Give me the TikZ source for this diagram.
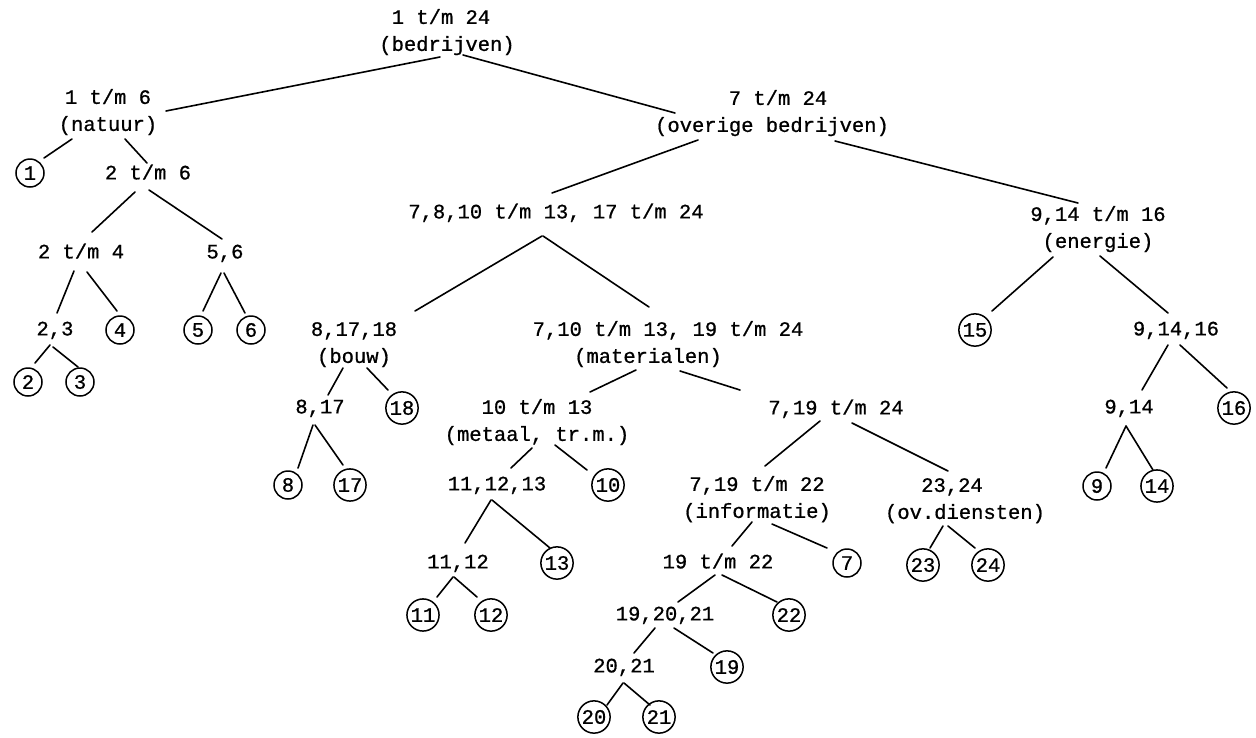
\documentclass[tikz,border=0pt]{standalone}
\usepackage{fontspec}
\newfontfamily\tw[FakeBold=0.8]{Liberation Mono}
\usetikzlibrary{calc}
\tikzset{
  lbl/.style={inner sep=0pt, align=center, font=\tw\fontsize{20.5}{27}\selectfont},
  leaf/.style={circle, draw, line width=1.5pt, inner sep=1.5pt, minimum size=28pt, font=\tw\fontsize{20.5}{27}\selectfont},
  conn/.style={line width=1.6pt, line cap=round}
}
\newcommand\tedge[4]{\draw[conn] ($(#1)+(#2)$) -- ($(#3)+(#4)$);}
\begin{document}
\begin{tikzpicture}[x=1pt,y=-1pt]
\useasboundingbox (0,0) rectangle (1256,737);
% internal nodes
\node[lbl] (root) at (447,32) {\strut 1 t/m 24\rule{12pt}{0pt}\\\strut(bedrijven)};
\node[lbl] (natuur) at (108,112) {\strut 1 t/m 6\\\strut(natuur)};
\node[lbl] (overige) at (772,113) {\strut\rule{12pt}{0pt}7 t/m 24\\\strut(overige bedrijven)};
\node[lbl] (n26) at (148,174) {\strut 2 t/m 6};
\node[lbl] (n24) at (81,253) {\strut 2 t/m 4};
\node[lbl] (n56) at (225,253) {\strut 5,6};
\node[lbl] (n23) at (55,330) {\strut 2,3};
\node[lbl] (long) at (556,213) {\strut 7,8,10 t/m 13, 17 t/m 24};
\node[lbl] (energie) at (1098,229) {\strut 9,14 t/m 16\\\strut(energie)};
\node[lbl] (bouw) at (354,344) {\strut 8,17,18\\\strut(bouw)};
\node[lbl] (mat) at (668,344) {\strut 7,10 t/m 13, 19 t/m 24\\\strut(materialen)\rule{40pt}{0pt}};
\node[lbl] (n817) at (320,408) {\strut 8,17};
\node[lbl] (metaal) at (537,422) {\strut 10 t/m 13\\\strut(metaal, tr.m.)};
\node[lbl] (n71924) at (836,409) {\strut 7,19 t/m 24};
\node[lbl] (n91416) at (1176,330) {\strut 9,14,16};
\node[lbl] (n914) at (1129,408) {\strut 9,14};
\node[lbl] (n111213) at (497,485) {\strut 11,12,13};
\node[lbl] (info) at (757,499) {\strut 7,19 t/m 22\\\strut(informatie)};
\node[lbl] (ovd) at (965,500) {\strut 23,24\rule{26pt}{0pt}\\\strut(ov.diensten)};
\node[lbl] (n1112) at (458,563) {\strut 11,12};
\node[lbl] (n1922) at (718,563) {\strut 19 t/m 22};
\node[lbl] (n192021) at (665,615) {\strut 19,20,21};
\node[lbl] (n2021) at (624,667) {\strut 20,21};
% leaves
\node[leaf] (l1) at (30,173) {1};
\node[leaf] (l2) at (28,382) {2};
\node[leaf] (l3) at (80,382) {3};
\node[leaf] (l4) at (120,330) {4};
\node[leaf] (l5) at (198,330) {5};
\node[leaf] (l6) at (251,330) {6};
\node[leaf] (l7) at (847,563) {7};
\node[leaf] (l8) at (288,485) {8};
\node[leaf] (l9) at (1097,486) {9};
\node[leaf] (l10) at (608,485) {10};
\node[leaf] (l11) at (423,615) {11};
\node[leaf] (l12) at (491,615) {12};
\node[leaf] (l13) at (557,563) {13};
\node[leaf] (l14) at (1157,486) {14};
\node[leaf] (l15) at (975,330) {15};
\node[leaf] (l16) at (1234,408) {16};
\node[leaf] (l17) at (350,485) {17};
\node[leaf] (l18) at (402,408) {18};
\node[leaf] (l19) at (727,667) {19};
\node[leaf] (l20) at (594,717) {20};
\node[leaf] (l21) at (659,717) {21};
\node[leaf] (l22) at (789,615) {22};
\node[leaf] (l23) at (923,565) {23};
\node[leaf] (l24) at (988,565) {24};
% connectors
\tedge{root}{-7,25}{natuur}{58,-1}
\tedge{root}{16,23}{overige}{-97,0}
\tedge{natuur}{-36,27}{l1}{14,-15}
\tedge{natuur}{17,27}{n26}{-1,-11}
\tedge{n26}{-13,18}{n24}{11,-21}
\tedge{n26}{1,16}{n56}{-3,-14}
\tedge{n24}{-7,18}{n23}{2,-17}
\tedge{n24}{6,19}{l4}{-3,-19}
\tedge{n56}{-4,20}{l5}{5,-19}
\tedge{n56}{-1,20}{l6}{-6,-17}
\tedge{n23}{-5,15}{l2}{7,-19}
\tedge{n23}{-2,17}{l3}{-2,-15}
\tedge{overige}{-74,27}{long}{-4,-20}
\tedge{overige}{63,28}{energie}{-20,-26}
\tedge{long}{-14,23}{bouw}{61,-33}
\tedge{long}{-13,23}{mat}{-19,-37}
\tedge{bouw}{-11,24}{n817}{8,-13}
\tedge{bouw}{13,24}{l18}{-14,-18}
\tedge{n817}{-7,17}{l8}{10,-17}
\tedge{n817}{-5,17}{l17}{-7,-20}
\tedge{mat}{-32,26}{metaal}{53,-30}
\tedge{mat}{12,27}{n71924}{-96,-19}
\tedge{metaal}{-5,26}{n111213}{14,-17}
\tedge{metaal}{18,23}{l10}{-21,-15}
\tedge{n111213}{-6,15}{n1112}{7,-20}
\tedge{n111213}{-5,15}{l13}{-7,-15}
\tedge{n1112}{-5,14}{l11}{14,-18}
\tedge{n1112}{-4,14}{l12}{-14,-18}
\tedge{n71924}{-16,12}{info}{8,-33}
\tedge{n71924}{16,14}{ovd}{-17,-29}
\tedge{info}{-5,23}{n1922}{14,-17}
\tedge{info}{15,25}{l7}{-20,-15}
\tedge{ovd}{-22,26}{l23}{7,-17}
\tedge{ovd}{-17,26}{l24}{-13,-17}
\tedge{n1922}{-3,12}{n192021}{13,-13}
\tedge{n1922}{4,12}{l22}{-12,-13}
\tedge{n192021}{-10,13}{n2021}{10,-14}
\tedge{n192021}{9,13}{l19}{-14,-14}
\tedge{n2021}{-1,16}{l20}{13,-12}
\tedge{n2021}{0,16}{l21}{-9,-12}
\tedge{energie}{-45,28}{l15}{17,-19}
\tedge{energie}{2,27}{n91416}{-8,-17}
\tedge{n91416}{-8,15}{n914}{13,-18}
\tedge{n91416}{4,15}{l16}{-7,-20}
\tedge{n914}{-3,18}{l9}{9,-18}
\tedge{n914}{-3,18}{l14}{-4,-16}
\end{tikzpicture}
\end{document}
